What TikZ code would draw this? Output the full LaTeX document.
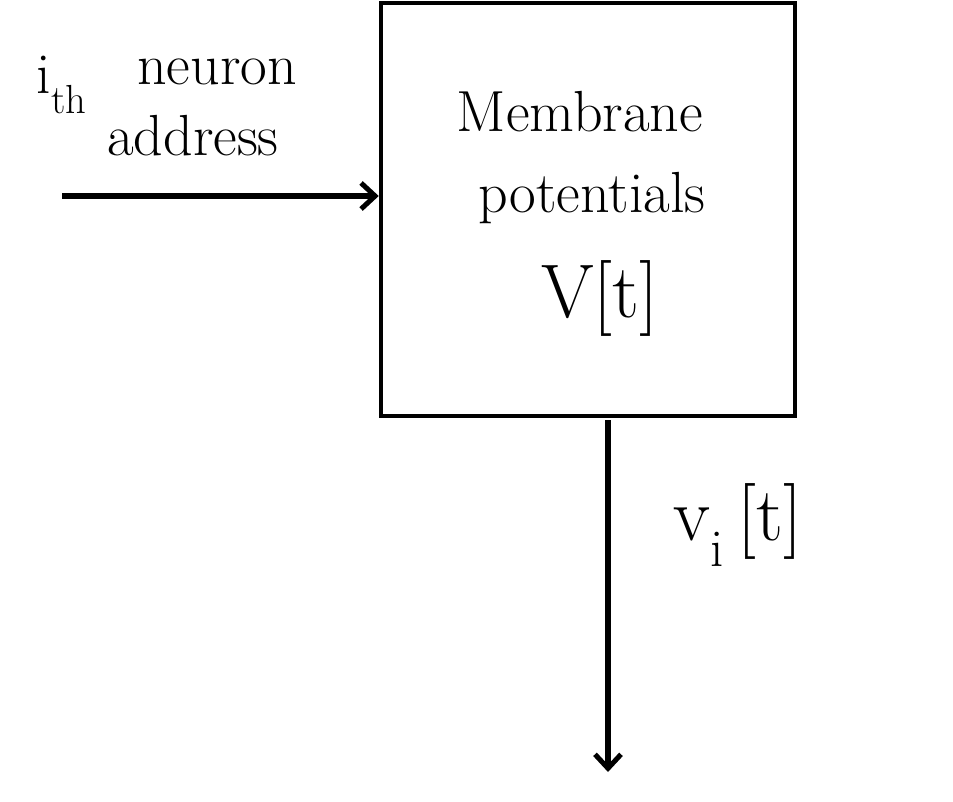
\documentclass[tikz,border=0pt]{standalone}
\usetikzlibrary{arrows.meta}
\begin{document}
\begin{tikzpicture}[x=1pt,y=-1pt,
  wire/.style={line width=5.5pt,-{Straight Barb[length=14pt,width=26pt,line width=5pt]}},
  lbl/.style={font=\fontsize{58}{66}\selectfont,inner sep=0pt},
  biglbl/.style={font=\fontsize{76}{86}\selectfont,inner sep=0pt}]
\useasboundingbox (0,0) rectangle (953,802);
\node[draw,line width=4.5pt,minimum width=414pt,minimum height=413pt,inner sep=0pt] (box) at (588,209.5) {};
\node[lbl] (t1) at (580,112) {Membrane};
\node[lbl] (t2) at (592,198) {potentials};
\node[biglbl] (t3) at (600,298) {V[t]};
\coordinate (in) at (62,196);
\draw[wire] (in) -- (box.west |- in);
\node[lbl] (ith) at (62,85) {i\textsubscript{th}};
\node[lbl] (neur) at (217,72) {neuron};
\node[lbl] (addr2) at (193,136) {address};
\coordinate (otop) at (608,420);
\coordinate (obot) at (608,772);
\draw[wire] (otop) -- (obot);
\node[biglbl] (vout) at (738,525) {v\textsubscript{i}\,[t]};
\end{tikzpicture}
\end{document}
